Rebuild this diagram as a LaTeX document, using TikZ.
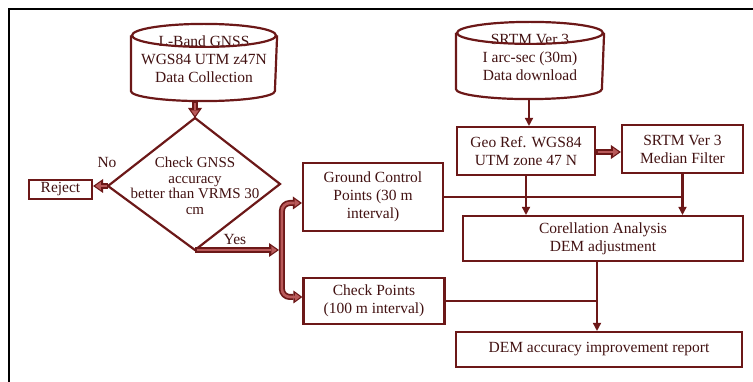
\documentclass[tikz,border=0pt]{standalone}
\usepackage{fontspec}
\setmainfont{Liberation Serif}
\usetikzlibrary{arrows.meta}
\definecolor{linecol}{RGB}{108,24,24}
\definecolor{textcol}{RGB}{66,18,18}
\definecolor{arrowfill}{RGB}{185,90,90}
\newcommand\fsz{\fontsize{15.5}{18}\selectfont}
\newcommand\fszd{\fontsize{15}{15.5}\selectfont}
\begin{document}
\begin{tikzpicture}[x=1pt,y=-1pt,
  box/.style={draw=linecol, line width=2.2pt, text=textcol, align=center, font=\fsz, inner sep=0pt},
  cyl/.style={box, draw=none},
  lbl/.style={text=textcol, font=\fsz, inner sep=0pt},
  conn/.style={draw=linecol, line width=2.4pt},
  tip/.style={-{Triangle[length=8pt,width=8.5pt,line width=0pt]}},
  hout/.style={draw=linecol, line width=6pt, -{Triangle[length=10pt,width=14pt,line width=0pt]}},
  hin/.style={draw=arrowfill, line width=2.6pt, shorten >=2.2pt, shorten <=1.5pt, -{Triangle[length=5.5pt,width=8pt,line width=0pt]}},
  bout/.style={draw=linecol, line width=6pt, rounded corners=8pt, {Triangle[length=9pt,width=13pt,line width=0pt]}-{Triangle[length=9pt,width=13pt,line width=0pt]}},
  bin/.style={draw=arrowfill, line width=2.6pt, rounded corners=8pt, shorten >=2.2pt, shorten <=2.2pt, {Triangle[length=5pt,width=7.5pt,line width=0pt]}-{Triangle[length=5pt,width=7.5pt,line width=0pt]}},
  cylline/.style={draw=linecol, line width=2.2pt}
]
\useasboundingbox (0,0) rectangle (753,382);
% frame
\draw[black, line width=2.8pt] (9,395) -- (9,9) -- (765,9);

% cylinders
\node[cyl, minimum width=144pt, minimum height=75pt] (lb) at (204,62.5) {};
\node[lbl, align=center] (lbtext) at (204,59.5) {L-Band GNSS\\WGS84 UTM z47N\\Data Collection};
\draw[cylline] ([yshift=-11.5pt]lb.north) ellipse [x radius=72pt, y radius=11.5pt];
\draw[cylline] ([yshift=-11.5pt]lb.north west) -- ([yshift=10pt]lb.south west) arc[start angle=180, end angle=360, x radius=72pt, y radius=10pt] -- ([yshift=-11.5pt]lb.north east);

\node[cyl, minimum width=146pt, minimum height=75pt] (srtm) at (530,60.5) {};
\node[lbl, align=center] (srtmtext) at (530,57.5) {SRTM Ver 3\\I arc-sec (30m)\\Data download};
\draw[cylline] ([yshift=-11pt]srtm.north) ellipse [x radius=73pt, y radius=11pt];
\draw[cylline] ([yshift=-11pt]srtm.north west) -- ([yshift=10pt]srtm.south west) arc[start angle=180, end angle=360, x radius=73pt, y radius=10pt] -- ([yshift=-11pt]srtm.north east);

% diamond
\coordinate (dt) at (195,118);
\coordinate (dl) at (108,186);
\coordinate (db) at (195,250);
\coordinate (dr) at (280,184);
\draw[cylline] (dt) -- (dr) -- (db) -- (dl) -- cycle;
\node[lbl, align=center, font=\fszd] (chk) at (195,186) {Check GNSS\\accuracy\\better than VRMS 30\\cm};

% boxes
\node[box, minimum width=63pt, minimum height=19pt] (rej) at (60.5,189.5) {Reject};
\node[box, minimum width=140pt, minimum height=68pt] (gcp) at (373,197) {Ground Control\\Points (30 m\\interval)};
\node[box, minimum width=141pt, minimum height=46pt] (cp) at (374,301) {Check Points\\(100 m interval)};
\node[box, minimum width=138pt, minimum height=48pt] (geo) at (526,151) {Geo Ref. WGS84\\UTM zone 47 N};
\node[box, minimum width=121pt, minimum height=48pt] (med) at (682.5,149) {SRTM Ver 3\\Median Filter};
\node[box, minimum width=280pt, minimum height=45pt] (corr) at (603,238.5) {Corellation Analysis\\DEM adjustment};
\node[box, minimum width=286pt, minimum height=35pt] (dem) at (599,349.5) {DEM accuracy improvement report};

% labels
\node[lbl] (no) at (107,163) {No};
\node[lbl] (yes) at (235,240) {Yes};

% hollow arrows
\draw[hout] (dt |- lb.south) -- (dt);
\draw[hin] (dt |- lb.south) -- (dt);
\draw[hout] (dl) -- (dl -| rej.east);
\draw[hin] (dl) -- (dl -| rej.east);
\coordinate (yj) at (279,250);
\draw[hout] (db) -- (yj);
\draw[hin] (db) -- (yj);
\coordinate (bt) at ([yshift=-6pt]gcp.west);
\coordinate (bb) at ([yshift=4pt]cp.west);
\draw[bout] (bt) -- ++(-20,0) |- (bb);
\draw[bin] (bt) -- ++(-20,0) |- (bb);
\draw[hout] (geo.east |- 0,152) -- (med.west |- 0,152);
\draw[hin] (geo.east |- 0,152) -- (med.west |- 0,152);

% thin connectors
\draw[conn, tip] (srtm.south -| 529,0) -- (geo.north -| 529,0);
\draw[conn, tip] (geo.south) -- (geo.south |- corr.north);
\draw[conn, tip] (med.south) -- (med.south |- corr.north);
\draw[conn] (gcp.east) -- (gcp.east -| med.south);
\coordinate (jd) at (597,301);
\draw[conn, tip] (corr.south -| jd) -- (dem.north -| jd);
\draw[conn] (cp.east) -- (jd);
\end{tikzpicture}
\end{document}
